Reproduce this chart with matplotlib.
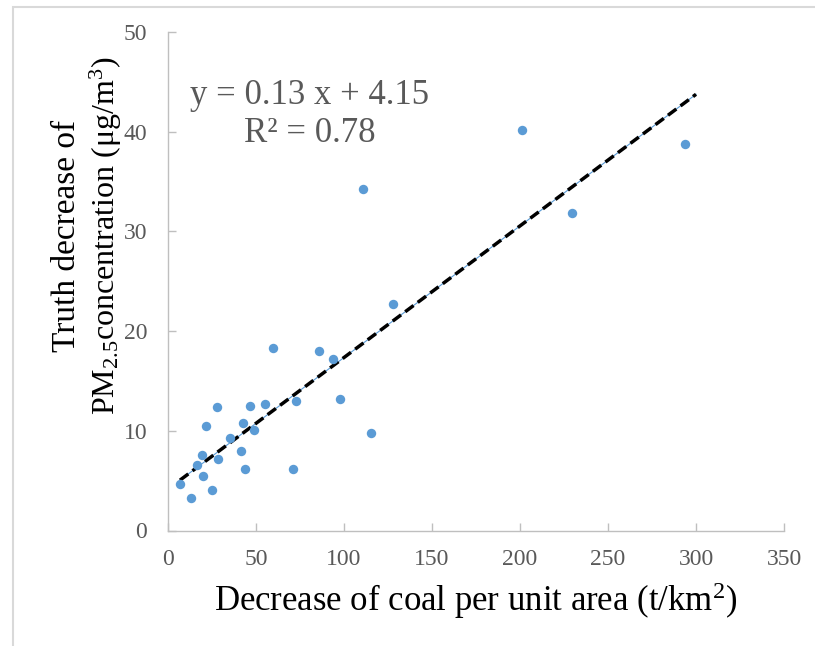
import matplotlib.pyplot as plt
from matplotlib.patches import Rectangle

# values
coal_decrease = [6.8, 12.9, 16.3, 20.1, 19.5, 25.2, 21.6, 27.7, 28.2, 35.2,
                 41.5, 43.6, 42.8, 46.6, 48.9, 55.3, 59.5, 71.2, 72.5, 86.0,
                 93.8, 97.9, 115.2, 110.8, 127.8, 201.0, 229.5, 293.8]
pm25_decrease = [4.66, 3.3, 6.56, 5.43, 7.57, 4.03, 10.47, 12.37, 7.16, 9.27,
                 7.97, 6.2, 10.74, 12.5, 10.07, 12.64, 18.35, 6.2, 13.0, 18.0,
                 17.2, 13.18, 9.74, 34.25, 22.7, 40.2, 31.8, 38.8]
# trend line as drawn (label shows the rounded equation)
slope = 0.132
intercept = 4.15
trend_x = [6.8, 300]
x_ticks = [0, 50, 100, 150, 200, 250, 300, 350]
y_ticks = [0, 10, 20, 30, 40, 50]

plt.rcParams['font.family'] = ['Liberation Serif', 'DejaVu Serif']
plt.rcParams['mathtext.fontset'] = 'custom'
plt.rcParams['mathtext.rm'] = 'Liberation Serif'
plt.rcParams['mathtext.it'] = 'Liberation Serif:italic'

fig = plt.figure(figsize=(8.15, 6.46), dpi=100)
ax = fig.add_axes([168 / 815, 115.5 / 646, 616 / 815, 498.5 / 646])

# outer chart border (only left and top edges are visible in the crop)
fig.patches.append(Rectangle((13 / 815, -0.05), 1.1, (646 - 7) / 646 + 0.05,
                             transform=fig.transFigure, fill=False,
                             edgecolor='#d9d9d9', linewidth=1.5))

blue = '#5b9bd5'
ax.scatter(coal_decrease, pm25_decrease, s=46, color=blue, zorder=3, linewidths=0)

trend_y = [slope * v + intercept for v in trend_x]
ax.plot(trend_x, trend_y, color=blue, linewidth=0.8, zorder=2)
ax.plot(trend_x, trend_y, color='black', linewidth=2.5, dashes=(3, 1.5), zorder=2)

ax.set_xlim(0, 350)
ax.set_ylim(0, 50)
ax.set_xticks(x_ticks)
ax.set_yticks(y_ticks)
for s in ['top', 'right']:
    ax.spines[s].set_visible(False)
for s in ['left', 'bottom']:
    ax.spines[s].set_color('#bfbfbf')
    ax.spines[s].set_linewidth(1.0)
ax.tick_params(direction='in', length=6, width=1.0, color='#bfbfbf',
               labelsize=17, labelcolor='#595959', pad=13)
ax.tick_params(axis='y', pad=15)

ax.set_xlabel('Decrease of coal per unit area (t/km$^2$)', fontsize=25, labelpad=8)

fig.text(67 / 815, 1 - 236 / 646, 'Truth decrease of', rotation=90,
         fontsize=24, ha='center', va='center')
fig.text(106 / 815, 1 - 236 / 646, 'PM$_{2.5}$concentration (μg/m$^3$)', rotation=90,
         fontsize=23, ha='center', va='center')

ax.text(0.2305, 0.8355, 'y = 0.13 x + 4.15\nR² = 0.78', transform=ax.transAxes,
        fontsize=25, color='#595959', ha='center', va='center',
        multialignment='center', linespacing=1.2)

fig.savefig('out.png', dpi=100)
